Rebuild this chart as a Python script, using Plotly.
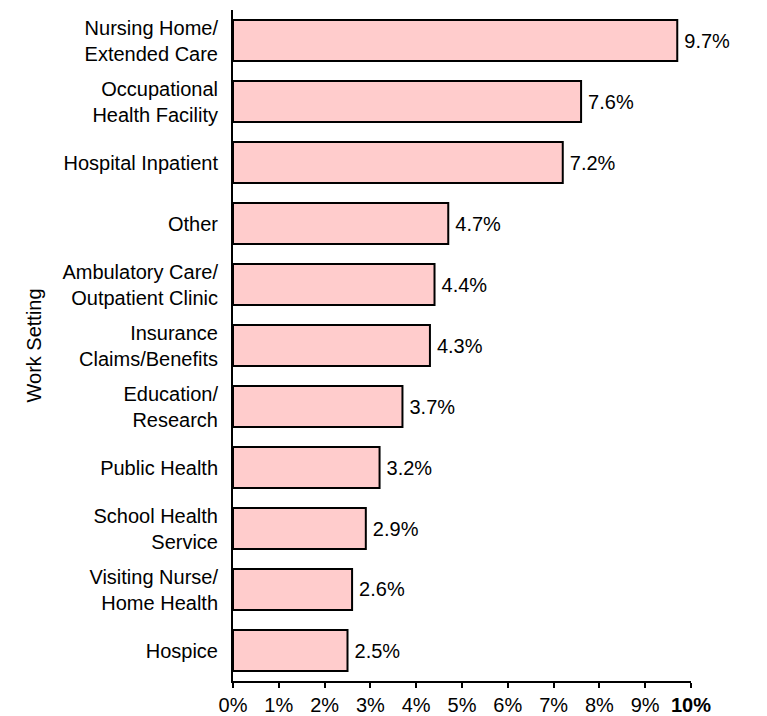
import plotly.graph_objects as go

categories = [
    "Nursing Home/<br>Extended Care",
    "Occupational<br>Health Facility",
    "Hospital Inpatient",
    "Other",
    "Ambulatory Care/<br>Outpatient Clinic",
    "Insurance<br>Claims/Benefits",
    "Education/<br>Research",
    "Public Health",
    "School Health<br>Service",
    "Visiting Nurse/<br>Home Health",
    "Hospice",
]
values = [9.7, 7.6, 7.2, 4.7, 4.4, 4.3, 3.7, 3.2, 2.9, 2.6, 2.5]
tick_vals = list(range(0, 11))
tick_text = [f"{v}%" for v in range(0, 10)] + ["<b>10%</b>"]

font_family = "Liberation Sans, Arial, sans-serif"
FS = 20

fig = go.Figure(go.Bar(
    y=categories,
    x=values,
    orientation="h",
    marker=dict(color="#FFCCCC", line=dict(color="black", width=2)),
    text=[f"\u2009{v}%" for v in values],
    textposition="outside",
    textfont=dict(size=FS, color="black", family=font_family),
    cliponaxis=False,
))

# page body has an 8px margin; figure offset accounted for
OFF = 8
W, H = 767 - OFF, 716 - OFF
L, R, T, B = 233 - OFF, 76, 10 - OFF, 35
plot_w = W - L - R

fig.update_layout(
    width=W, height=H,
    margin=dict(l=L, r=R, t=T, b=B, autoexpand=False),
    plot_bgcolor="white", paper_bgcolor="white",
    bargap=0.33,
    showlegend=False,
    font=dict(family=font_family, size=FS, color="black"),
    xaxis=dict(
        range=[0, 10], tickvals=tick_vals, ticktext=tick_text,
        showgrid=False, zeroline=False,
        showline=True, linecolor="black", linewidth=2,
        ticks="outside", ticklen=5, tickwidth=1.5, tickcolor="black",
        tickfont=dict(size=FS, color="black"),
    ),
    yaxis=dict(
        autorange="reversed",
        showgrid=False, zeroline=False,
        showline=True, linecolor="black", linewidth=2,
        ticks="", ticklabelstandoff=9,
        tickfont=dict(size=FS, color="black"),
    ),
    annotations=[dict(
        text="Work Setting", textangle=-90,
        xref="paper", yref="paper",
        x=-(233 - 33) / plot_w, y=0.5,
        xanchor="center", yanchor="middle",
        showarrow=False, font=dict(size=FS, color="black"),
    )],
)

fig.write_html("out.html")
